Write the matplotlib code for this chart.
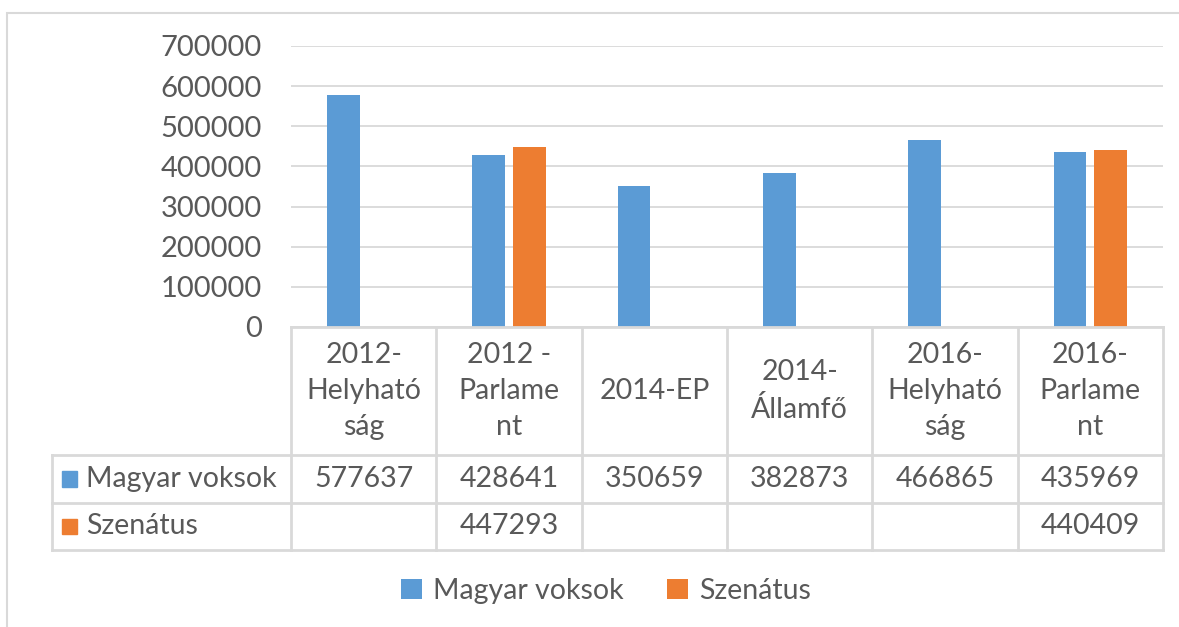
import numpy as np
import matplotlib
matplotlib.use("Agg")
import matplotlib.pyplot as plt
from matplotlib.patches import Rectangle
from matplotlib.lines import Line2D
from matplotlib.transforms import blended_transform_factory

categories = ["2012-\nHelyható\nság", "2012 -\nParlame\nnt", "2014-EP",
              "2014-\nÁllamfő", "2016-\nHelyható\nság", "2016-\nParlame\nnt"]
magyar = [577637, 428641, 350659, 382873, 466865, 435969]
szenatus = [np.nan, 447293, np.nan, np.nan, np.nan, 440409]
series_names = ["Magyar voksok", "Szenátus"]

BLUE = "#5B9BD5"
ORANGE = "#ED7D31"
TXT = "#595959"
GRID = "#D9D9D9"
FS = 20.5

plt.rcParams["font.family"] = ["Lato", "DejaVu Sans"]

W, H = 1179, 627
fig = plt.figure(figsize=(W / 100, H / 100), dpi=100)

# outer chart frame
fig.patches.append(Rectangle((7.5 / W, -0.1), 1.2, 1 - 12.5 / H + 0.1, transform=fig.transFigure,
                             fill=False, edgecolor=GRID, lw=1.5))

L, R, T, B = 291, 1163, 46, 327
ax = fig.add_axes([L / W, 1 - B / H, (R - L) / W, (B - T) / H])

x = np.arange(len(categories))
bw = 0.225
off = 0.14
ax.bar(x - off, magyar, bw, color=BLUE, label=series_names[0])
ax.bar(x + off, szenatus, bw, color=ORANGE, label=series_names[1])

ax.set_xlim(-0.5, len(categories) - 0.5)
ax.set_ylim(0, 700000)
ax.set_yticks(range(0, 700001, 100000))
ax.set_yticklabels([str(v) for v in range(0, 700001, 100000)])
ax.tick_params(axis="y", length=0, pad=21, labelsize=FS + 0.5, labelcolor=TXT)
ax.set_xticks([])
ax.grid(axis="y", color=GRID, lw=1.3)
ax.set_axisbelow(True)
for s in ax.spines.values():
    s.set_visible(False)

# data table below the axis
tr = blended_transform_factory(ax.transData, ax.transAxes)
ah = B - T
y_head = -(455 - B) / ah
y_r1 = -(503 - B) / ah
y_r2 = -(550 - B) / ah
x_left = -0.5 - (L - 52) / ((R - L) / len(categories))
xe = len(categories) - 0.5

kw = dict(transform=tr, color=GRID, lw=2, clip_on=False)
ax.add_line(Line2D([-0.5, xe], [0, 0], **kw))
ax.add_line(Line2D([x_left, xe], [y_head, y_head], **kw))
ax.add_line(Line2D([x_left, xe], [y_r1, y_r1], **kw))
ax.add_line(Line2D([x_left, xe], [y_r2, y_r2], **kw))
ax.add_line(Line2D([x_left, x_left], [y_head, y_r2], **kw))
for i in range(len(categories) + 1):
    ax.add_line(Line2D([i - 0.5, i - 0.5], [0, y_r2], **kw))

for i, c in enumerate(categories):
    ax.text(i, y_head / 2, c, transform=tr, ha="center", va="center", fontsize=FS,
            color=TXT, linespacing=1.48, clip_on=False)
    ax.text(i, (y_head + y_r1) / 2, str(magyar[i]), transform=tr, ha="center",
            va="center", fontsize=FS, color=TXT)
    if not np.isnan(szenatus[i]):
        ax.text(i, (y_r1 + y_r2) / 2, str(int(szenatus[i])), transform=tr, ha="center",
                va="center", fontsize=FS, color=TXT)

sq = 0.1
for (ya, yb), col, name in [((y_head, y_r1), BLUE, series_names[0]),
                             ((y_r1, y_r2), ORANGE, series_names[1])]:
    ym = (ya + yb) / 2
    ax.add_patch(Rectangle((x_left + 0.07, ym - 0.027), sq, 0.054, transform=tr,
                           color=col, clip_on=False))
    ax.text(x_left + 0.235, ym, name, transform=tr, ha="left", va="center",
            fontsize=FS, color=TXT)

fig.legend(loc="center", bbox_to_anchor=(606 / W, 1 - 591 / H), ncol=2,
           frameon=False, fontsize=FS, labelcolor=TXT, handlelength=0.75,
           handleheight=0.75, handletextpad=0.4, columnspacing=1.5)

fig.savefig("out.png", dpi=100)
